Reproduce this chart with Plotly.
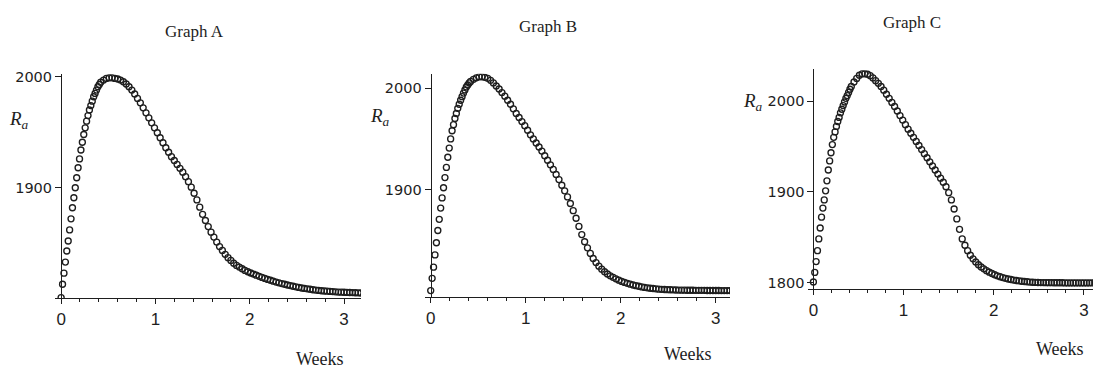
import plotly.graph_objects as go

# ---------------- data ----------------
WEEKS = [
    0, 0.015, 0.03, 0.045, 0.06, 0.075, 0.09, 0.105, 0.12, 0.135,
    0.15, 0.165, 0.18, 0.195, 0.21, 0.225, 0.24, 0.255, 0.27, 0.285,
    0.3, 0.315, 0.33, 0.345, 0.36, 0.375, 0.39, 0.405, 0.42,
    0.45, 0.48, 0.51, 0.54, 0.57, 0.6, 0.63, 0.66, 0.69, 0.72,
    0.75, 0.78, 0.81, 0.84, 0.87, 0.9, 0.93, 0.96, 0.99, 1.02,
    1.05, 1.08, 1.11, 1.14, 1.17, 1.2, 1.23, 1.26, 1.29, 1.32,
    1.35, 1.38, 1.41, 1.44, 1.47, 1.5, 1.53, 1.56, 1.59, 1.62,
    1.65, 1.68, 1.71, 1.74, 1.77, 1.8, 1.83, 1.86, 1.89, 1.92,
    1.95, 1.98, 2.01, 2.04, 2.07, 2.1, 2.13, 2.16, 2.19, 2.22,
    2.25, 2.28, 2.31, 2.34, 2.37, 2.4, 2.43, 2.46, 2.49, 2.52,
    2.55, 2.58, 2.61, 2.64, 2.67, 2.7, 2.73, 2.76, 2.79, 2.82,
    2.85, 2.88, 2.91, 2.94, 2.97, 3.0, 3.03, 3.06, 3.09, 3.12,
    3.15, 3.18,
]

RA_GRAPH_A = [
    1801, 1813, 1823, 1833, 1843, 1852, 1862, 1872, 1882, 1891,
    1900, 1909, 1918, 1926, 1934, 1941, 1948, 1954, 1960, 1965,
    1970, 1974, 1978, 1982, 1985, 1988, 1991, 1993, 1995,
    1997, 1998.5, 1999, 1999, 1998.5, 1998, 1997, 1995.5, 1993.5, 1991,
    1988, 1984.5, 1980.5, 1976.5, 1972, 1967.5, 1963, 1958.5, 1954, 1949.5,
    1945, 1940.5, 1936, 1932, 1928, 1924.5, 1921, 1917.5, 1914, 1910,
    1905.5, 1900.5, 1895, 1889, 1882.5, 1876, 1870.5, 1865, 1860, 1855.5,
    1851, 1847, 1843.5, 1840, 1837, 1834.5, 1832, 1830, 1828.5, 1827,
    1825.5, 1824.3, 1823.2, 1822.2, 1821.2, 1820.2, 1819.2, 1818.3, 1817.4, 1816.6,
    1815.8, 1815, 1814.3, 1813.6, 1813, 1812.4, 1811.8, 1811.2, 1810.7, 1810.2,
    1809.7, 1809.3, 1808.9, 1808.5, 1808.1, 1807.8, 1807.5, 1807.2, 1807, 1806.8,
    1806.6, 1806.4, 1806.2, 1806, 1805.9, 1805.8, 1805.7, 1805.6, 1805.5, 1805.4,
    1805.3, 1805.2,
]

RA_GRAPH_B = [
    1801, 1813, 1824, 1836, 1848, 1860, 1871, 1882, 1892, 1902,
    1912, 1922, 1932, 1941, 1950, 1958, 1964, 1970, 1975, 1980,
    1984, 1988, 1991.5, 1995, 1998, 2001, 2003, 2005, 2006.5,
    2008.5, 2010, 2011, 2011, 2010.5, 2009.5, 2007.5, 2005, 2002, 1999,
    1995.5, 1992, 1988, 1984, 1979.5, 1975, 1971, 1967, 1963, 1958.5,
    1954, 1950, 1946, 1942, 1938, 1933.5, 1929, 1924.5, 1920, 1915,
    1910, 1904.5, 1899, 1893, 1886.5, 1879.5, 1872, 1864, 1856, 1849,
    1843, 1837.5, 1832.5, 1828.5, 1825, 1822, 1819.5, 1817.3, 1815.5, 1814,
    1812.5, 1811.2, 1810, 1809, 1808.1, 1807.3, 1806.5, 1805.8, 1805.2, 1804.6,
    1804.1, 1803.7, 1803.3, 1803, 1802.7, 1802.4, 1802.2, 1802, 1801.9, 1801.8,
    1801.7, 1801.6, 1801.5, 1801.4, 1801.4, 1801.3, 1801.3, 1801.3, 1801.2, 1801.2,
    1801.2, 1801.2, 1801.1, 1801.1, 1801.1, 1801.1, 1801.1, 1801, 1801, 1801,
    1801, 1801,
]

RA_GRAPH_C = [
    1800.5, 1811, 1823, 1835, 1848, 1860, 1872, 1882, 1891, 1901,
    1912, 1924, 1934, 1943, 1952, 1960, 1966, 1972, 1977.5, 1982,
    1987, 1991, 1995, 1999, 2003, 2006, 2009.5, 2013, 2016,
    2021, 2025, 2028.5, 2030, 2030, 2029.5, 2028, 2025.5, 2022.5, 2019.5,
    2016, 2012, 2007.5, 2003, 1998.5, 1994, 1989, 1984, 1979, 1974,
    1969, 1964.5, 1960, 1955.5, 1951, 1946.5, 1942, 1937.5, 1933, 1928.5,
    1924, 1919.5, 1915, 1910.5, 1905.5, 1899, 1891, 1881, 1870, 1858.5,
    1848, 1841, 1835, 1830, 1826, 1822.5, 1819.5, 1817, 1815, 1813,
    1811.3, 1809.8, 1808.5, 1807.3, 1806.2, 1805.3, 1804.5, 1803.8, 1803.2, 1802.6,
    1802.1, 1801.7, 1801.3, 1801, 1800.7, 1800.4, 1800.2, 1800, 1799.9, 1799.8,
    1799.8, 1799.7, 1799.7, 1799.7, 1799.6, 1799.6, 1799.6, 1799.6, 1799.5, 1799.5,
    1799.5, 1799.5, 1799.5, 1799.5, 1799.5, 1799.5, 1799.5, 1799.5, 1799.5, 1799.5,
    1799.5, 1799.5,
]

TITLES = ["Graph A", "Graph B", "Graph C"]
X_TICKS = [0, 1, 2, 3]
Y_TICKS = [[1900, 2000], [1900, 2000], [1800, 1900, 2000]]
X_LABEL = "Weeks"
Y_LABEL = "<i>R</i><sub><i>a</i></sub>"

# ---------------- layout (pixels in a 1093 x 370 page) ----------------
W, H = 1093, 370
SERIES = [RA_GRAPH_A, RA_GRAPH_B, RA_GRAPH_C]
X_RANGES = [[-0.065, 3.18], [-0.06, 3.15], [-0.06, 3.1]]
Y_RANGES = [[1800.5, 2002.6], [1794.5, 2013.9], [1792.4, 2035.4]]
PLOT_X = [(55, 361), (425, 730), (808, 1093)]
PLOT_Y = [(70, 298), (70, 297), (65, 289)]
TITLE_POS = [(194, 27), (548, 22), (912, 18)]
XLAB_POS = [(320, 360), (688, 355), (1060, 350)]
YLAB_POS = [(19, 117), (380, 114), (753, 99)]

INK = "#1e1e1e"
fig = go.Figure()
layout = dict(
    width=W, height=H, margin=dict(l=0, r=0, t=0, b=0),
    paper_bgcolor="white", plot_bgcolor="white", showlegend=False,
)
annotations = []

for i, ys in enumerate(SERIES):
    n = "" if i == 0 else str(i + 1)
    fig.add_trace(go.Scatter(
        x=WEEKS, y=ys, mode="markers", xaxis="x" + n, yaxis="y" + n,
        marker=dict(symbol="circle-open", size=6, color=INK,
                    line=dict(width=1.35, color=INK)),
        hoverinfo="skip",
    ))
    x0, x1 = PLOT_X[i]
    y0, y1 = PLOT_Y[i]
    xr = X_RANGES[i]
    yaxis_px = x0 + (0 - xr[0]) / (xr[1] - xr[0]) * (x1 - x0)
    layout["xaxis" + n] = dict(
        domain=[x0 / W, x1 / W], range=xr, anchor="y" + n,
        tickvals=X_TICKS, ticks="outside", ticklen=5, tickwidth=1.2,
        tickcolor=INK, showline=True, linecolor=INK, linewidth=1.3,
        showgrid=False, zeroline=False,
        tickfont=dict(family="Liberation Sans", size=17, color=INK),
        minor=dict(dtick=0.2, tick0=0, ticks="outside", ticklen=3,
                   tickcolor=INK, showgrid=False),
        fixedrange=True,
    )
    layout["yaxis" + n] = dict(
        domain=[1 - y1 / H, 1 - y0 / H], range=Y_RANGES[i],
        anchor="free", position=yaxis_px / W,
        tickvals=Y_TICKS[i], ticks="outside", ticklen=6, tickwidth=1.2,
        tickcolor=INK, showline=True, linecolor=INK, linewidth=1.3,
        showgrid=False, zeroline=False,
        tickfont=dict(family="DejaVu Sans", size=14.5, color=INK),
        fixedrange=True,
    )
    for (px, py), txt, fnt in [
        (TITLE_POS[i], TITLES[i], dict(family="Liberation Serif", size=17, color=INK)),
        (XLAB_POS[i], X_LABEL, dict(family="Liberation Serif", size=18, color=INK)),
        (YLAB_POS[i], Y_LABEL, dict(family="Liberation Serif", size=19, color=INK)),
    ]:
        annotations.append(dict(
            x=px / W, y=1 - py / H, xref="paper", yref="paper",
            text=txt, showarrow=False, xanchor="center", yanchor="middle",
            font=fnt,
        ))

layout["annotations"] = annotations
fig.update_layout(**layout)
fig.write_html("out.html", config={"displayModeBar": False})
